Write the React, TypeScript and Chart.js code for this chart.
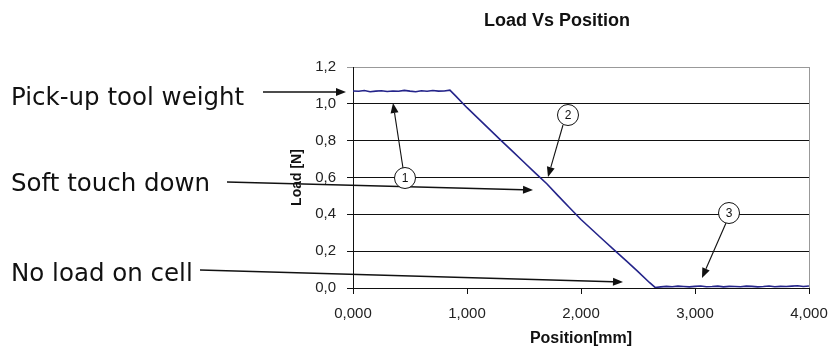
import React, { useEffect, useRef } from 'react';
import { Chart, registerables } from 'chart.js';

Chart.register(...registerables);

// ---- data ----
const positions = [
  0, 50, 100, 150, 200, 250, 300, 350, 400, 450, 500, 550, 600, 650, 700, 750, 800, 850,
  900, 1000, 1100, 1200, 1300, 1400, 1500, 1600, 1700, 1800, 1900, 2000, 2100, 2200, 2300, 2400, 2500, 2600, 2650,
  2700, 2750, 2800, 2850, 2900, 2950, 3000, 3050, 3100, 3150, 3200, 3250, 3300, 3350, 3400, 3450, 3500,
  3550, 3600, 3650, 3700, 3750, 3800, 3850, 3900, 3950, 4000,
];
const loads = [
  1.070, 1.068, 1.072, 1.066, 1.069, 1.071, 1.067, 1.070, 1.068, 1.073, 1.069, 1.066, 1.071, 1.068, 1.072, 1.069, 1.070, 1.074,
  1.043, 0.979, 0.920, 0.860, 0.800, 0.742, 0.683, 0.624, 0.566, 0.500, 0.436, 0.372, 0.315, 0.258, 0.202, 0.146, 0.089, 0.030, 0.003,
  0.006, 0.009, 0.007, 0.010, 0.008, 0.006, 0.009, 0.011, 0.007, 0.008, 0.010, 0.006, 0.009, 0.008, 0.007, 0.010, 0.009,
  0.006, 0.008, 0.011, 0.007, 0.009, 0.008, 0.010, 0.012, 0.008, 0.011,
];
const xTickLabels = ['0,000', '1,000', '2,000', '3,000', '4,000'];
const yTickLabels = ['0,0', '0,2', '0,4', '0,6', '0,8', '1,0', '1,2'];
const chartTitle = 'Load Vs Position';
const xTitle = 'Position[mm]';
const yTitle = 'Load [N]';
const callouts = ['Pick-up tool weight', 'Soft touch down', 'No load on cell'];
const markers = ['1', '2', '3'];

function arrow(ctx: CanvasRenderingContext2D, x1: number, y1: number, x2: number, y2: number) {
  const ang = Math.atan2(y2 - y1, x2 - x1);
  const len = 10;
  const half = 4;
  const bx = x2 - len * Math.cos(ang);
  const by = y2 - len * Math.sin(ang);
  ctx.beginPath();
  ctx.moveTo(x1, y1);
  ctx.lineTo(bx, by);
  ctx.stroke();
  ctx.beginPath();
  ctx.moveTo(x2, y2);
  ctx.lineTo(bx + half * Math.sin(ang), by - half * Math.cos(ang));
  ctx.lineTo(bx - half * Math.sin(ang), by + half * Math.cos(ang));
  ctx.closePath();
  ctx.fill();
}

function circle(ctx: CanvasRenderingContext2D, x: number, y: number, t: string) {
  ctx.beginPath();
  ctx.arc(x, y, 10.5, 0, Math.PI * 2);
  ctx.fillStyle = '#fff';
  ctx.fill();
  ctx.lineWidth = 1;
  ctx.strokeStyle = '#111';
  ctx.stroke();
  ctx.fillStyle = '#111';
  ctx.font = '12px "Liberation Sans", Arial, sans-serif';
  ctx.textAlign = 'center';
  ctx.textBaseline = 'middle';
  ctx.fillText(t, x, y + 1);
}

const annotations = {
  id: 'annotations',
  afterDraw(chart: any) {
    const ctx: CanvasRenderingContext2D = chart.ctx;
    const a = chart.chartArea;
    ctx.save();
    // plot right border
    ctx.strokeStyle = '#999';
    ctx.lineWidth = 1;
    const rx = Math.round(a.right) + 0.5;
    ctx.beginPath();
    ctx.moveTo(rx, a.top);
    ctx.lineTo(rx, a.bottom);
    ctx.stroke();

    // title
    ctx.fillStyle = '#111';
    ctx.font = 'bold 18px "Liberation Sans", Arial, sans-serif';
    ctx.textAlign = 'center';
    ctx.textBaseline = 'middle';
    ctx.fillText(chartTitle, 557, 21);

    // callout texts
    ctx.font = '24.5px "DejaVu Sans", sans-serif';
    ctx.textAlign = 'left';
    ctx.textBaseline = 'alphabetic';
    ctx.fillText(callouts[0], 11, 105);
    ctx.fillText(callouts[1], 11, 191);
    ctx.fillText(callouts[2], 11, 281);

    // arrows
    ctx.strokeStyle = '#111';
    ctx.fillStyle = '#111';
    ctx.lineWidth = 1.4;
    arrow(ctx, 263, 92, 346, 92);
    arrow(ctx, 227, 182, 533, 190);
    arrow(ctx, 200, 270, 623, 282);
    ctx.lineWidth = 1.1;
    arrow(ctx, 403, 168, 393, 103);
    arrow(ctx, 563, 125, 548, 177);
    arrow(ctx, 726, 223, 702, 278);

    circle(ctx, 405, 178, markers[0]);
    circle(ctx, 568, 115, markers[1]);
    circle(ctx, 729, 213, markers[2]);
    ctx.restore();
  },
};

export default function App() {
  const ref = useRef<HTMLCanvasElement>(null);
  useEffect(() => {
    if (!ref.current) return;
    const tickFont = { family: '"Liberation Sans", Arial, sans-serif', size: 15 };
    const chart = new Chart(ref.current, {
      type: 'line',
      data: {
        datasets: [
          {
            label: 'Load',
            data: positions.map((x, i) => ({ x, y: loads[i] })),
            borderColor: '#24248a',
            borderWidth: 1.6,
            pointRadius: 0,
            tension: 0,
            fill: false,
          },
        ],
      },
      options: {
        responsive: false,
        animation: false,
        events: [],
        layout: { padding: { left: 289, right: 21, top: 67, bottom: 0 } },
        plugins: {
          legend: { display: false },
          title: { display: false },
          tooltip: { enabled: false },
        },
        scales: {
          x: {
            type: 'linear',
            min: 0,
            max: 4000,
            afterFit: (s: any) => { s.height = 61; s.paddingRight = 0; s.paddingLeft = 0; },
            ticks: {
              stepSize: 1000,
              color: '#222',
              font: tickFont,
              padding: 11,
              maxRotation: 0,
              callback: (_v: any, i: number) => xTickLabels[i],
            },
            grid: { drawOnChartArea: false, drawTicks: true, tickLength: 6, color: '#111' },
            border: { display: true, color: '#111', width: 1 },
            title: {
              display: true,
              text: xTitle,
              color: '#111',
              font: { family: '"Liberation Sans", Arial, sans-serif', size: 16, weight: 'bold' },
              padding: { top: 0, bottom: 1 },
            },
          },
          y: {
            min: 0,
            max: 1.2,
            afterFit: (s: any) => { s.width = 64; },
            ticks: {
              stepSize: 0.2,
              color: '#222',
              font: tickFont,
              padding: 11,
              callback: (_v: any, i: number) => yTickLabels[i],
            },
            grid: {
              drawTicks: true,
              tickLength: 6,
              color: (c: any) => (c.index === yTickLabels.length - 1 ? '#999' : '#111'),
              lineWidth: 1,
            },
            border: { display: true, color: '#111', width: 1 },
            title: {
              display: true,
              text: yTitle,
              color: '#111',
              font: { family: '"Liberation Sans", Arial, sans-serif', size: 14, weight: 'bold' },
              padding: { top: 0, bottom: 0 },
            },
          },
        },
      },
      plugins: [annotations],
    });
    return () => chart.destroy();
  }, []);
  return (
    <div style={{ position: 'fixed', left: 0, top: 0, width: 830, height: 349, background: '#fff' }}>
      <canvas ref={ref} width={830} height={349} style={{ display: 'block' }} />
    </div>
  );
}
